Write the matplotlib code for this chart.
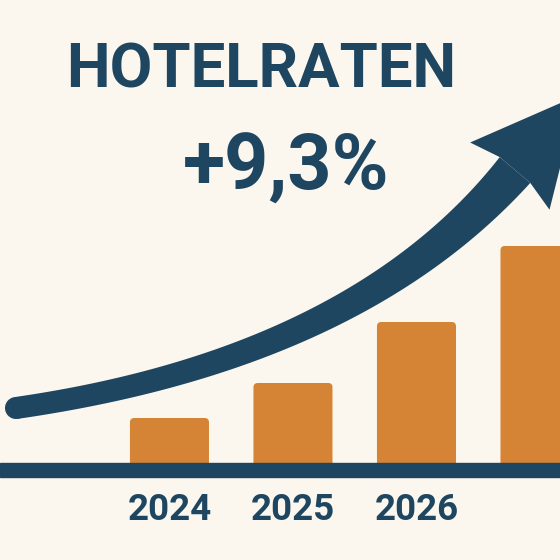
import numpy as np
import matplotlib
matplotlib.use("Agg")
from matplotlib import pyplot as plt
from matplotlib.patches import FancyBboxPatch, Polygon, Circle

# data
years = ["2024", "2025", "2026", "2027"]
rates = [45, 80, 141, 217]          # relative hotel rate level (bar heights)
title = "HOTELRATEN"
growth = "+9,3%"

bg = "#FBF7EE"
navy = "#1F4661"
orange = "#D58436"

fig = plt.figure(figsize=(5.6, 5.6), dpi=100, facecolor=bg)

# bars axes: index units on x, value units on y
ax = fig.add_axes([0, 0, 1, 1])
ax.set_facecolor(bg)
ax.set_xlim(-1.372, 3.162)
ax.set_ylim(-97, 463)
ax.axis("off")

x = np.arange(len(years))
bw = 0.64
bars = ax.bar(x, rates, width=bw, color=orange, zorder=2)
for b in bars:
    b.set_visible(False)
    rb = FancyBboxPatch((b.get_x(), b.get_y() - 8), b.get_width(), b.get_height() + 8,
                        boxstyle="round,pad=0,rounding_size=0.035",
                        mutation_aspect=123.5, fc=orange, ec="none", zorder=2)
    ax.add_patch(rb)

# axis line
ax.axhspan(-14, 0, color=navy, zorder=3)

# year labels (last bar is cut by the frame)
for xi, yr in zip(x[:3], years[:3]):
    ax.text(xi, -57, yr, ha="center", va="baseline", fontsize=26.5,
            fontweight="bold", family="Roboto", color=navy)

# overlay in pixel coords for title and arrow
ov = fig.add_axes([0, 0, 1, 1])
ov.set_xlim(0, 560)
ov.set_ylim(560, 0)
ov.axis("off")
ov.patch.set_alpha(0)

ov.text(261, 87, title, ha="center", va="baseline", fontsize=44.5,
        fontweight="bold", family="Roboto", color=navy)
ov.text(286, 190, growth, ha="center", va="baseline", fontsize=55.5,
        fontweight="bold", family="Roboto", color=navy)

# trend arrow: quadratic bezier shaft that widens, then the head
p0 = np.array([16, 408])
p1 = np.array([355, 359])
p2 = np.array([515, 170])
u = np.linspace(0, 1, 120)[:, None]
c = (1 - u) ** 2 * p0 + 2 * u * (1 - u) * p1 + u ** 2 * p2
d = 2 * (1 - u) * (p1 - p0) + 2 * u * (p2 - p1)
d = d / np.linalg.norm(d, axis=1)[:, None]
n = np.column_stack([d[:, 1], -d[:, 0]])
w = (22 + 18 * u[:, 0] ** 2)[:, None] / 2
shaft = np.vstack([c + n * w, (c - n * w)[::-1]])
ov.add_patch(Polygon(shaft, closed=True, fc=navy, ec="none", zorder=4))
ov.add_patch(Circle(p0, 11, fc=navy, ec="none", zorder=4))

de, ne = d[-1], n[-1]
tip = p2 + 98 * de
head = [p2 + ne * 20, p2 - 8 * de + ne * 52, tip, p2 - 8 * de - ne * 52, p2 - ne * 20]
ov.add_patch(Polygon(head, closed=True, fc=navy, ec="none", zorder=4))

fig.savefig("out.png", dpi=100, facecolor=bg)
